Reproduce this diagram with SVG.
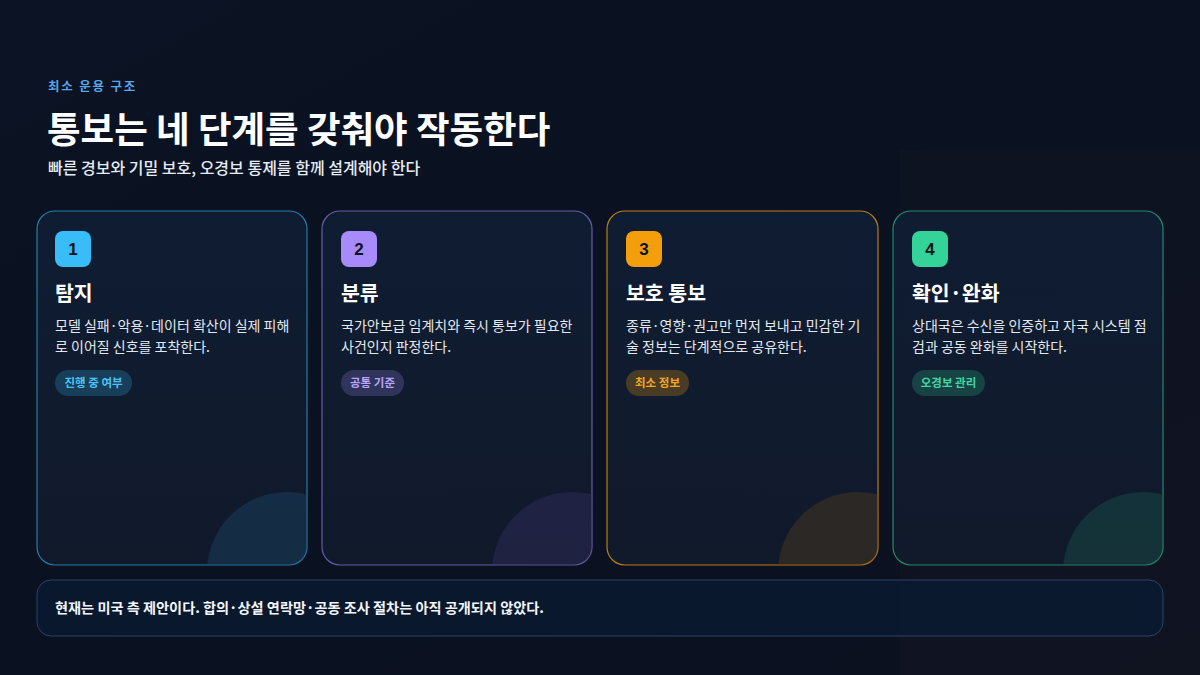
<svg xmlns="http://www.w3.org/2000/svg" width="1200" height="675" viewBox="0 0 1200 675">
<defs>
<linearGradient id="bg" x1="0" y1="0" x2="1" y2="1">
<stop offset="0" stop-color="#0b1324"/>
<stop offset="0.6" stop-color="#0a1120"/>
<stop offset="1" stop-color="#0d1220"/>
</linearGradient>
<linearGradient id="cardfill" x1="0" y1="0" x2="0" y2="1">
<stop offset="0" stop-color="#0f1d33" stop-opacity="0.95"/>
<stop offset="1" stop-color="#111a2b" stop-opacity="0.95"/>
</linearGradient>
<clipPath id="c1"><rect x="37" y="211" width="270" height="354" rx="18"/></clipPath>
<clipPath id="c2"><rect x="322" y="211" width="270" height="354" rx="18"/></clipPath>
<clipPath id="c3"><rect x="607" y="211" width="271" height="354" rx="18"/></clipPath>
<clipPath id="c4"><rect x="893" y="211" width="270" height="354" rx="18"/></clipPath>
<style>
text{font-family:"Noto Sans CJK KR","Noto Sans",sans-serif}
.card{fill:url(#cardfill);stroke-width:1.2}
.badge-t{font-family:"Liberation Sans","Noto Sans",sans-serif;font-size:17px;font-weight:700;fill:#0b1220;text-anchor:middle}
.title{font-size:20.5px;font-weight:700;fill:#ffffff}
.desc{font-size:14px;fill:#e2e8f0}
.chip-t{font-size:11.5px;font-weight:700}
</style>
</defs>
<rect width="1200" height="675" fill="url(#bg)"/>
<rect x="900" y="150" width="300" height="525" fill="#1a1a24" opacity="0.25"/>

<g id="header">
<text x="48" y="91" font-size="12.5" font-weight="700" fill="#5aa6e6" letter-spacing="1.8">최소 운용 구조</text>
<text x="47" y="143" font-size="36.5" font-weight="700" fill="#ffffff">통보는 네 단계를 갖춰야 작동한다</text>
<text x="48" y="174" font-size="16" font-weight="500" fill="#e6ebf2">빠른 경보와 기밀 보호, 오경보 통제를 함께 설계해야 한다</text>
</g>

<g id="card1">
<rect class="card" x="37" y="211" width="270" height="354" rx="18" stroke="#38bdf8" stroke-opacity="0.6"/>
<circle cx="287" cy="572" r="80" fill="#1e4a6e" opacity="0.38" clip-path="url(#c1)"/>
<rect x="55" y="231" width="36" height="36" rx="8" fill="#38bdf8"/>
<text class="badge-t" x="73" y="255">1</text>
<text class="title" x="55" y="301">탐지</text>
<text class="desc" x="55" y="331">모델 실패·악용·데이터 확산이 실제 피해</text>
<text class="desc" x="55" y="352">로 이어질 신호를 포착한다.</text>
<rect x="55" y="370" width="77" height="26" rx="13" fill="#38bdf8" fill-opacity="0.22"/>
<text class="chip-t" x="93.5" y="387" text-anchor="middle" fill="#4cc3f5">진행 중 여부</text>
</g>

<g id="card2">
<rect class="card" x="322" y="211" width="270" height="354" rx="18" stroke="#a78bfa" stroke-opacity="0.6"/>
<circle cx="572" cy="572" r="80" fill="#3b2f6a" opacity="0.38" clip-path="url(#c2)"/>
<rect x="341" y="231" width="36" height="36" rx="8" fill="#a78bfa"/>
<text class="badge-t" x="359" y="255">2</text>
<text class="title" x="341" y="301">분류</text>
<text class="desc" x="341" y="331">국가안보급 임계치와 즉시 통보가 필요한</text>
<text class="desc" x="341" y="352">사건인지 판정한다.</text>
<rect x="341" y="370" width="63" height="26" rx="13" fill="#a78bfa" fill-opacity="0.22"/>
<text class="chip-t" x="372.5" y="387" text-anchor="middle" fill="#b8a4fb">공통 기준</text>
</g>

<g id="card3">
<rect class="card" x="607" y="211" width="271" height="354" rx="18" stroke="#f59e0b" stroke-opacity="0.75"/>
<circle cx="858" cy="572" r="80" fill="#5a3f1e" opacity="0.38" clip-path="url(#c3)"/>
<rect x="626" y="231" width="36" height="36" rx="8" fill="#f59e0b"/>
<text class="badge-t" x="644" y="255">3</text>
<text class="title" x="626" y="301">보호 통보</text>
<text class="desc" x="626" y="331">종류·영향·권고만 먼저 보내고 민감한 기</text>
<text class="desc" x="626" y="352">술 정보는 단계적으로 공유한다.</text>
<rect x="626" y="370" width="63" height="26" rx="13" fill="#f59e0b" fill-opacity="0.25"/>
<text class="chip-t" x="657.5" y="387" text-anchor="middle" fill="#f5a623">최소 정보</text>
</g>

<g id="card4">
<rect class="card" x="893" y="211" width="270" height="354" rx="18" stroke="#34d399" stroke-opacity="0.6"/>
<circle cx="1143" cy="572" r="80" fill="#1b5a4e" opacity="0.38" clip-path="url(#c4)"/>
<rect x="912" y="231" width="36" height="36" rx="8" fill="#34d399"/>
<text class="badge-t" x="930" y="255">4</text>
<text class="title" x="912" y="301">확인·완화</text>
<text class="desc" x="912" y="331">상대국은 수신을 인증하고 자국 시스템 점</text>
<text class="desc" x="912" y="352">검과 공동 완화를 시작한다.</text>
<rect x="912" y="370" width="73" height="26" rx="13" fill="#34d399" fill-opacity="0.22"/>
<text class="chip-t" x="948.5" y="387" text-anchor="middle" fill="#45d6a0">오경보 관리</text>
</g>

<g id="note">
<rect x="37" y="580" width="1126" height="56" rx="14" fill="#0b1a30" fill-opacity="0.85" stroke="#3b6aa0" stroke-opacity="0.55"/>
<text x="55" y="613" font-size="14.2" font-weight="700" fill="#f1f5f9">현재는 미국 측 제안이다. 합의·상설 연락망·공동 조사 절차는 아직 공개되지 않았다.</text>
</g>
<g id="connectors"/>
</svg>
